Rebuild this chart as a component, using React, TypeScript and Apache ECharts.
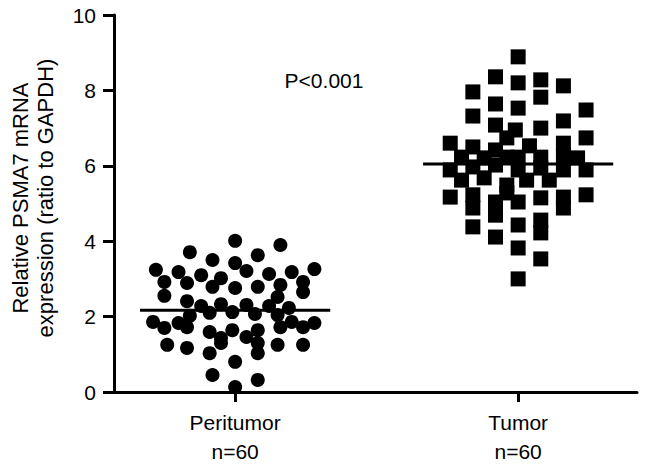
import React, { useEffect, useRef } from "react";
import * as echarts from "echarts";

const categories = ["Peritumor", "Tumor"];
const sampleSizes = ["n=60", "n=60"];
const yTicks = [0, 2, 4, 6, 8, 10];
const groupMeans = [2.17, 6.05];
const pValueLabel = "P<0.001";
const yTitleLines = ["Relative PSMA7 mRNA", "expression (ratio to GAPDH)"];

const peritumorValues = [
  4.01, 3.9, 3.71, 3.63, 3.5, 3.42, 3.24, 3.18, 3.1, 3.02,
  3.21, 3.13, 3.18, 3.26, 2.92, 2.89, 2.79, 2.76, 2.79, 2.84,
  2.92, 2.55, 2.65, 2.41, 2.52, 2.28, 2.33, 2.31, 2.28, 2.23,
  2.1, 2.12, 2.07, 2.04, 2.02, 1.86, 1.83, 1.7, 1.72, 1.59,
  1.64, 1.64, 1.72, 1.86, 1.83, 1.72, 1.43, 1.46, 1.25, 1.17,
  1.3, 1.3, 1.25, 1.25, 1.03, 1.03, 0.8, 0.45, 0.32, 0.13,
];
const peritumorJitter = [
  0.0, 0.16, -0.16, 0.08, -0.08, 0.0, -0.28, -0.2, -0.12, -0.05,
  0.04, 0.12, 0.2, 0.28, -0.25, -0.17, -0.08, 0.0, 0.08, 0.16,
  0.24, -0.25, 0.24, -0.17, 0.15, -0.12, -0.05, 0.04, 0.12, 0.19,
  -0.09, -0.01, 0.07, 0.15, -0.16, -0.29, -0.2, -0.25, -0.17, -0.09,
  -0.01, 0.08, 0.16, 0.2, 0.28, 0.24, -0.05, 0.04, -0.24, -0.17,
  -0.05, 0.08, 0.15, 0.24, -0.09, 0.08, 0.0, -0.08, 0.08, 0.0,
];

const tumorValues = [
  8.89, 8.36, 8.28, 8.2, 8.12, 7.96, 7.82, 7.64, 7.53, 7.48,
  7.32, 7.19, 7.08, 7.0, 6.95, 6.74, 6.74, 6.6, 6.6, 6.5,
  6.42, 6.53, 6.23, 6.21, 6.23, 6.23, 6.26, 6.21, 5.89, 5.97,
  6.02, 5.89, 5.94, 5.89, 5.89, 5.62, 5.68, 5.62, 5.62, 5.49,
  5.17, 5.23, 4.88, 5.04, 4.69, 5.28, 5.04, 5.15, 5.17, 4.88,
  5.23, 4.38, 4.11, 4.43, 4.56, 4.22, 3.82, 3.53, 3.0, 6.23,
];
const tumorJitter = [
  0.0, -0.08, 0.08, 0.0, 0.16, -0.16, 0.08, -0.08, 0.0, 0.24,
  -0.16, 0.16, -0.08, 0.08, -0.01, -0.04, 0.24, -0.24, 0.16, -0.16,
  -0.08, 0.04, -0.2, -0.12, -0.04, 0.08, 0.16, 0.21, -0.24, -0.16,
  -0.08, 0.0, 0.08, 0.16, 0.24, -0.2, -0.12, 0.03, 0.11, -0.04,
  -0.24, -0.16, -0.16, -0.08, -0.08, -0.04, 0.0, 0.08, 0.16, 0.16,
  0.24, -0.16, -0.08, 0.0, 0.08, 0.08, 0.0, 0.08, 0.0, 0.0,
];

const FONT = "'Liberation Sans', Arial, Helvetica, sans-serif";

export default function App() {
  const ref = useRef<HTMLDivElement>(null);
  useEffect(() => {
    if (!ref.current) return;
    const chart = echarts.init(ref.current, null, { renderer: "svg" });
    const positions = categories.map((_, i) => i + 1);
    const halfWidth = 0.336;
    const option: any = {
      animation: false,
      backgroundColor: "#ffffff",
      textStyle: { fontFamily: FONT, color: "#000" },
      grid: { left: 114, right: 9, top: 15, bottom: 76, containLabel: false },
      xAxis: {
        type: "value",
        min: 0.572,
        max: 2.42,
        splitLine: { show: false },
        axisLine: { show: true, onZero: false, lineStyle: { color: "#000", width: 3 } },
        axisTick: {
          show: true,
          customValues: positions,
          length: 10,
          lineStyle: { color: "#000", width: 3 },
        },
        axisLabel: {
          customValues: positions,
          margin: 16,
          fontSize: 21,
          lineHeight: 29,
          color: "#000",
          fontFamily: FONT,
          formatter: (v: number) => {
            const i = Math.round(v) - 1;
            return categories[i] + "\n" + sampleSizes[i];
          },
        },
      },
      yAxis: {
        type: "value",
        min: yTicks[0],
        max: yTicks[yTicks.length - 1],
        interval: 2,
        splitLine: { show: false },
        axisLine: { show: true, onZero: false, lineStyle: { color: "#000", width: 3 } },
        axisTick: { show: true, length: 11, lineStyle: { color: "#000", width: 3 } },
        axisLabel: { fontSize: 21, color: "#000", margin: 18, fontFamily: FONT },
      },
      graphic: [
        {
          type: "text",
          x: 33,
          y: 198,
          rotation: Math.PI / 2,
          style: {
            text: yTitleLines.join("\n"),
            fontSize: 22,
            lineHeight: 25,
            fontFamily: FONT,
            fill: "#000",
            align: "center",
            verticalAlign: "middle",
          },
        },
        {
          type: "text",
          x: 324,
          y: 80,
          style: {
            text: pValueLabel,
            fontSize: 21,
            fontFamily: FONT,
            fill: "#000",
            align: "center",
            verticalAlign: "middle",
          },
        },
      ],
      series: [
        {
          type: "scatter",
          symbol: "circle",
          symbolSize: 14,
          itemStyle: { color: "#000", opacity: 1 },
          data: peritumorValues.map((v, i) => [positions[0] + peritumorJitter[i], v]),
        },
        {
          type: "scatter",
          symbol: "rect",
          symbolSize: 15,
          itemStyle: { color: "#000", opacity: 1 },
          data: tumorValues.map((v, i) => [positions[1] + tumorJitter[i], v]),
        },
        ...groupMeans.map((m, i) => ({
          type: "line",
          symbol: "none",
          z: 5,
          lineStyle: { color: "#000", width: 3 },
          data: [
            [positions[i] - halfWidth, m],
            [positions[i] + halfWidth, m],
          ],
        })),
      ],
    };
    chart.setOption(option);
    return () => chart.dispose();
  }, []);
  return (
    <div
      ref={ref}
      style={{ position: "fixed", left: 0, top: 0, width: 646, height: 468 }}
    />
  );
}
